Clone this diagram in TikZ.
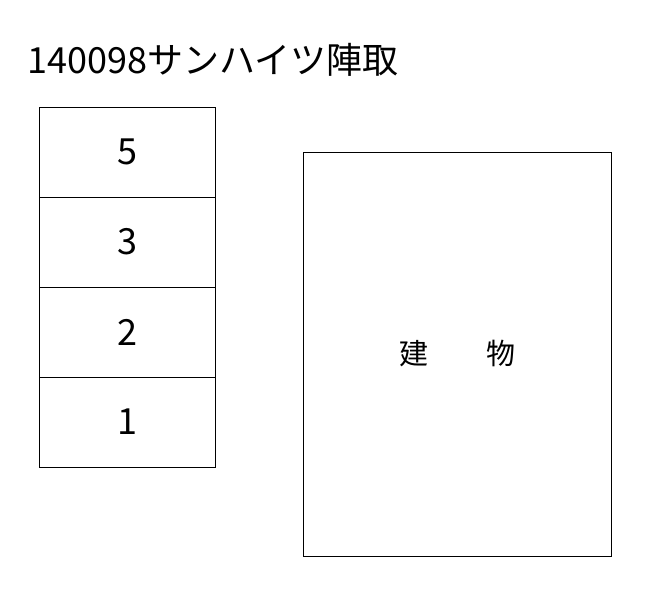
\documentclass[tikz,border=0pt]{standalone}
\usepackage{fontspec}
\setmainfont{Noto Sans CJK JP}
\usetikzlibrary{positioning}
\tikzset{
    %Define style for parking lots
    lot/.style={
           rectangle,
           draw=black, line width=0.9pt,
           minimum width=176pt,
           minimum height=90pt,
           inner sep=0pt, outer sep=0pt,
           font=\fontsize{36}{40}\selectfont},
    % Define style for the building
    bldg/.style={
           rectangle,
           draw=black, line width=0.9pt,
           minimum width=308pt,
           minimum height=404pt,
           inner sep=0pt,
           font=\fontsize{29}{32}\selectfont}
}
\begin{document}
\begin{tikzpicture}[x=1pt, y=-1pt]
      \useasboundingbox (0,0) rectangle (661,600);
      \node[anchor=west, inner sep=0pt, font=\fontsize{36}{40}\selectfont] (title) at (27,60) {140098サンハイツ陣取};

      \node[lot] (lot5) at (127,152) {5};
      \node[lot, below=0pt of lot5] (lot3) {3};
      \node[lot, below=0pt of lot3] (lot2) {2};
      \node[lot, below=0pt of lot2] (lot1) {1};

      \node[bldg] (building) at (457,354) {建　　物};
  \end{tikzpicture}
\end{document}
